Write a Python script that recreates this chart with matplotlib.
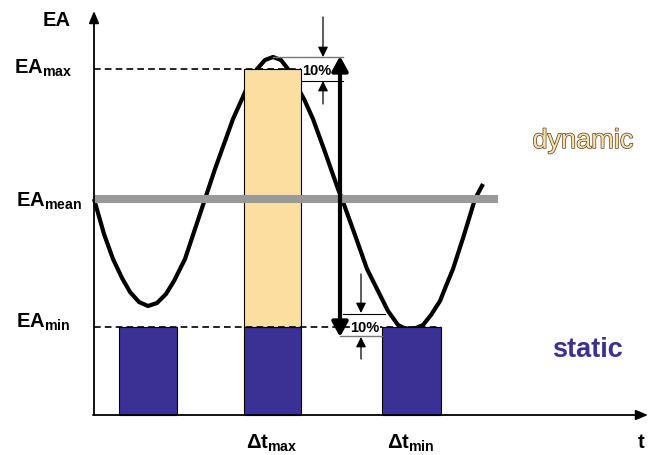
import matplotlib
matplotlib.use('Agg')
import matplotlib.pyplot as plt
import matplotlib.patheffects as pe

plt.rcParams['font.family'] = ['Liberation Sans', 'DejaVu Sans']
plt.rcParams['mathtext.fontset'] = 'custom'
plt.rcParams['mathtext.rm'] = 'Liberation Sans:bold'
plt.rcParams['mathtext.bf'] = 'Liberation Sans:bold'
plt.rcParams['mathtext.it'] = 'Liberation Sans:bold'
plt.rcParams['mathtext.default'] = 'bf'

# schematic in picture units (t to the right, EA downwards on screen)
curve_t = [94, 104, 113, 122, 130, 139, 148, 157, 166, 174, 180, 185, 195, 205, 215,
           224, 233, 242, 250, 257, 265, 273, 281, 288, 295, 304, 313, 325, 338, 342,
           355, 367, 377, 388, 398, 404, 410, 416, 423, 431, 440, 446, 453, 464, 475, 483]
curve_ea = [200, 235, 260, 279, 293, 303, 307, 304, 295, 282, 270, 260, 230, 200, 170,
            145, 120, 100, 82, 70, 61, 58, 61, 70, 84, 100, 120, 153, 190, 200,
            236, 270, 290, 312, 326, 329, 330, 329, 326, 316, 302, 287, 270, 236, 200, 185]

ea_max, ea_mean, ea_min = 70, 200, 328
t_axis0, ea_axis0 = 94, 416

static_left = [119, 244, 382]
static_width = [58, 57, 59]
dyn_left, dyn_width = 244, 57

navy = '#3b3195'
orange = '#fcdea1'

fig = plt.figure(figsize=(6.54, 4.56), dpi=100)
ax = fig.add_axes([0, 0, 1, 1])
ax.set_xlim(0, 654)
ax.set_ylim(456, 0)
ax.axis('off')

# curve
ax.plot(curve_t, curve_ea, color='black', lw=3, solid_capstyle='butt', zorder=1)

# bars
ax.bar(static_left, [ea_axis0 - ea_min] * 3, width=static_width, bottom=ea_min,
       align='edge', color=navy, edgecolor='black', lw=0.8, zorder=2)
ax.bar([dyn_left], [ea_min - ea_max], width=[dyn_width], bottom=ea_max,
       align='edge', color=orange, edgecolor='black', lw=0.8, zorder=2)

# mean line
ax.plot([t_axis0, 498], [ea_mean, ea_mean], color='#999999', lw=5.8,
        solid_capstyle='butt', zorder=3)

# dashed reference lines
ax.plot([t_axis0, dyn_left + dyn_width], [ea_max, ea_max], color='black', lw=1.2,
        ls=(0, (4, 2.5)), zorder=4)
ax.plot([t_axis0, static_left[2] + static_width[2]], [ea_min, ea_min], color='black',
        lw=1.2, ls=(0, (4, 2.5)), zorder=4)

# axes arrows
ax.annotate('', xy=(t_axis0, 12), xytext=(t_axis0, ea_axis0),
            arrowprops=dict(arrowstyle='-|>,head_length=0.6,head_width=0.25', lw=1.3,
                            color='black', shrinkA=0, shrinkB=0, mutation_scale=12))
ax.annotate('', xy=(648, ea_axis0), xytext=(t_axis0 - 1, ea_axis0),
            arrowprops=dict(arrowstyle='-|>,head_length=0.6,head_width=0.25', lw=1.3,
                            color='black', shrinkA=0, shrinkB=0, mutation_scale=12))

# big double arrow
ax.annotate('', xy=(340, 57), xytext=(340, 338),
            arrowprops=dict(arrowstyle='<|-|>,head_length=0.55,head_width=0.3', lw=3,
                            color='black', shrinkA=0, shrinkB=0, mutation_scale=16),
            zorder=5)

# 10% brackets
ax.plot([273, 343], [58, 58], color='#777777', lw=1.0, zorder=5)
ax.plot([302, 343], [82, 82], color='black', lw=0.8, zorder=5)
ax.plot([343, 385], [315, 315], color='black', lw=0.8, zorder=5)
ax.plot([340, 382], [337, 337], color='#777777', lw=1.0, zorder=5)
small = dict(arrowstyle='-|>,head_length=0.6,head_width=0.3', lw=0.9, color='black',
             shrinkA=0, shrinkB=0, mutation_scale=10)
ax.annotate('', xy=(323, 58), xytext=(323, 18), arrowprops=small)
ax.annotate('', xy=(323, 82), xytext=(323, 105), arrowprops=small)
ax.annotate('', xy=(361, 314), xytext=(361, 275), arrowprops=small)
ax.annotate('', xy=(361, 338), xytext=(361, 360), arrowprops=small)
ax.text(317, 71, '10%', fontsize=10.5, fontweight='bold', ha='center', va='center',
        zorder=6)
ax.text(365, 328, '10%', fontsize=10.5, fontweight='bold', ha='center', va='center',
        zorder=6, bbox=dict(facecolor='white', edgecolor='none', pad=0.3))

# labels
ax.text(57, 21, 'EA', fontsize=14.5, fontweight='bold', ha='center', va='center')
ax.text(14, 68, r'$EA_{max}$', fontsize=14.5, ha='left', va='center')
ax.text(16, 201, r'$EA_{mean}$', fontsize=14.5, ha='left', va='center')
ax.text(16, 322, r'$EA_{min}$', fontsize=14.5, ha='left', va='center')
ax.text(272, 443, r'$\Delta t_{max}$', fontsize=14.5, ha='center', va='center')
ax.text(411, 443, r'$\Delta t_{min}$', fontsize=14.5, ha='center', va='center')
ax.text(641, 443, 't', fontsize=14.5, fontweight='bold', ha='center', va='center')

ax.text(583, 142, 'dynamic', fontsize=19.5, color=orange, ha='center', va='center',
        path_effects=[pe.Stroke(linewidth=1.0, foreground='#4a3f2c'), pe.Normal()])
ax.text(587, 350, 'static', fontsize=19.5, fontweight='bold', color=navy,
        ha='center', va='center')

fig.savefig('out.png', dpi=100)
